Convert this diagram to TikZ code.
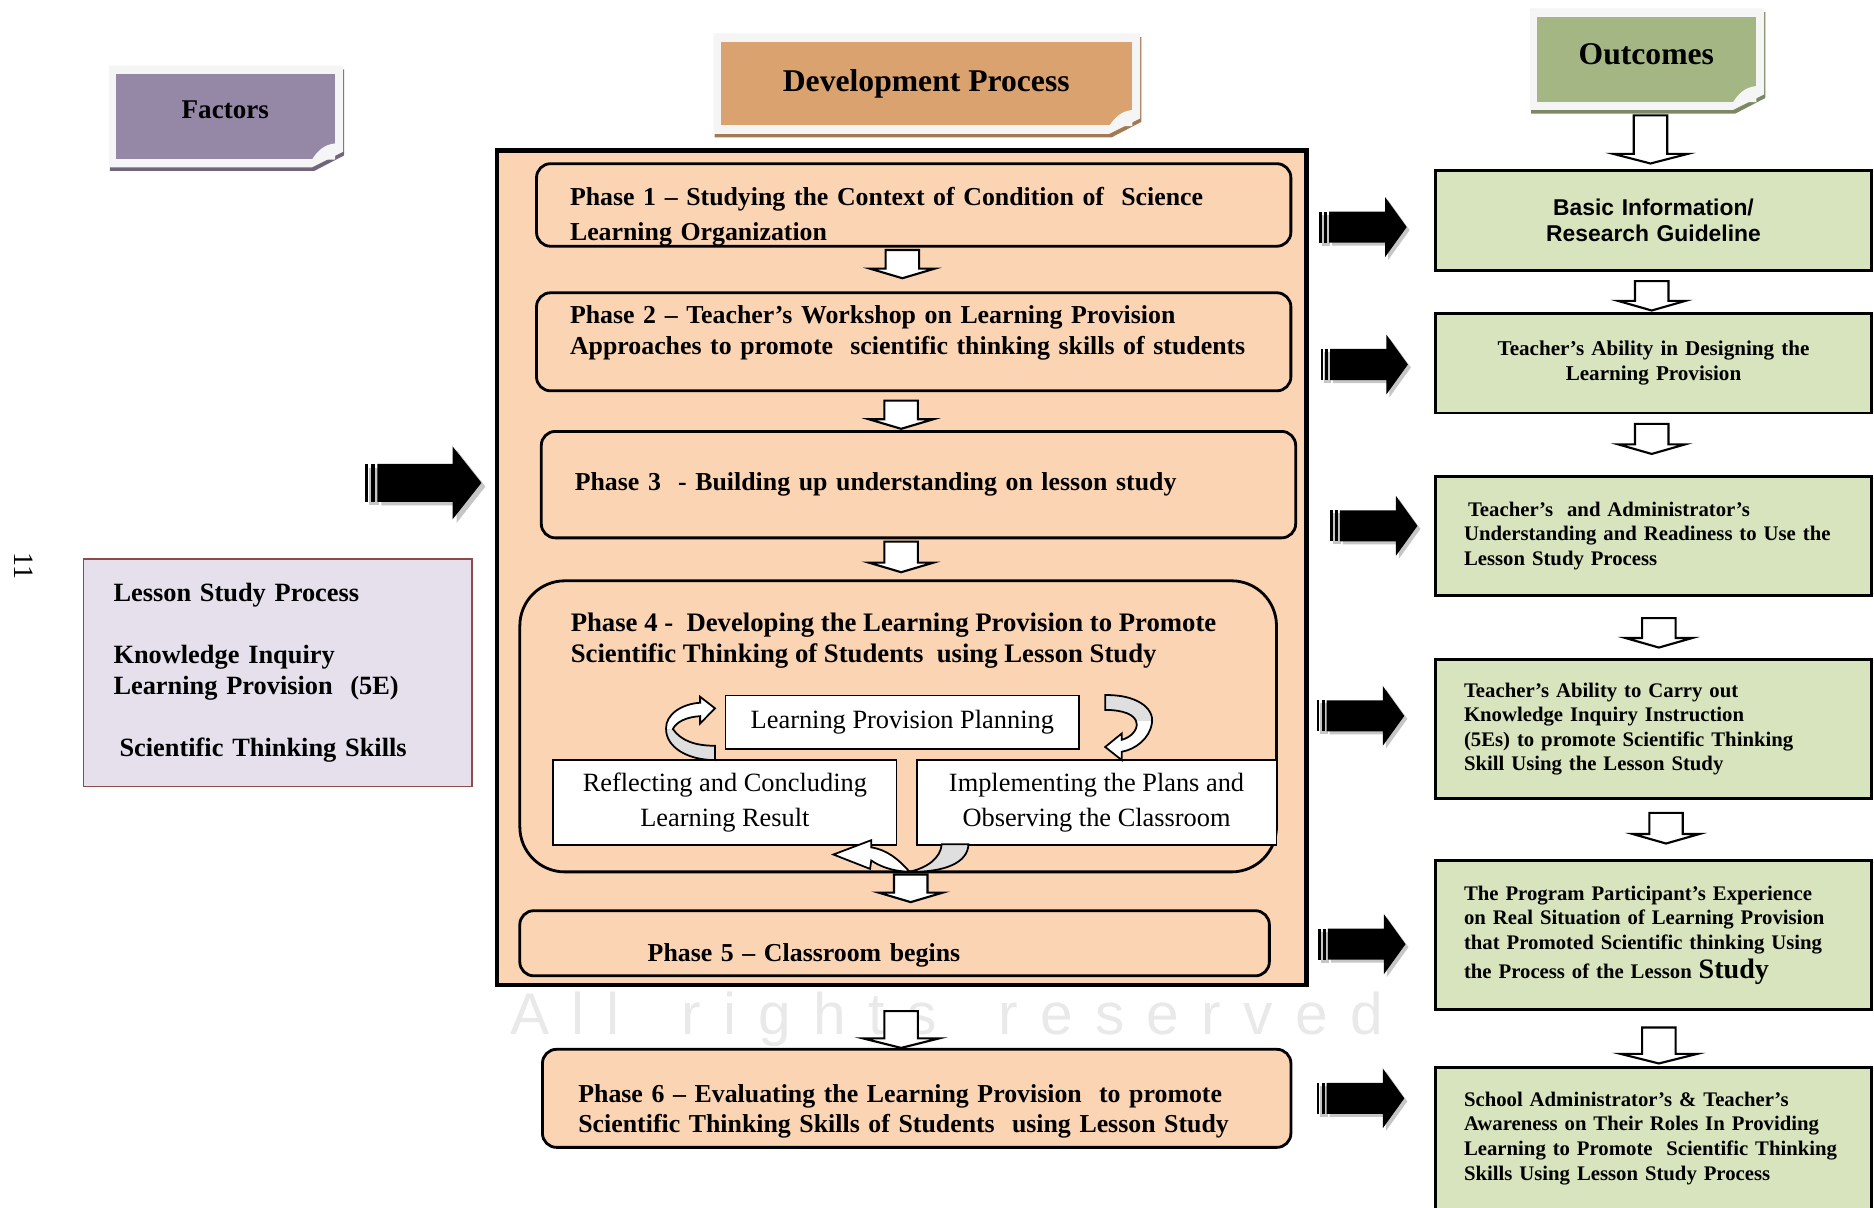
\documentclass[tikz,border=0pt]{standalone}
\usepackage{fontspec}
\setmainfont{Liberation Serif}
\setsansfont{Liberation Sans}
\usetikzlibrary{calc}

\definecolor{peach}{HTML}{FBD4B4}
\definecolor{devtan}{HTML}{D9A26F}
\definecolor{lilac}{HTML}{9587A6}
\definecolor{sage}{HTML}{A4B683}
\definecolor{palegreen}{HTML}{D7E4BD}
\definecolor{lavender}{HTML}{E5E0EC}
\definecolor{maroon}{HTML}{8E4B4B}

\newcommand{\px}{0.01195cm}
\newcommand{\ws}{\hspace{.38em}}
\newcommand{\wg}{\hspace{1.05em}}

\tikzset{
  processframe/.style={
    rectangle,
    draw=black,
    line width=1.3pt,
    fill=peach
  },
  phase/.style={
    rectangle,
    rounded corners=0.14cm,
    draw=black,
    line width=0.8pt,
    fill=peach,
    align=left,
    inner ysep=0pt,
    font=\bfseries\fontsize{7.35}{8.84}\selectfont
  },
  cyclebox/.style={
    rectangle,
    draw=black,
    line width=0.5pt,
    fill=white,
    align=center,
    inner sep=0pt,
    font=\fontsize{7.5}{9.9}\selectfont
  },
  outcome/.style={
    rectangle,
    draw=black,
    line width=0.8pt,
    fill=palegreen,
    inner xsep=0.287cm,
    inner ysep=0pt,
    minimum width=4.362cm,
    text width=3.788cm,
    align=left,
    font=\bfseries\fontsize{5.9}{7}\selectfont
  },
  factorbox/.style={
    rectangle,
    draw=maroon,
    line width=0.5pt,
    fill=lavender,
    align=left,
    inner xsep=0.299cm,
    text width=3.286cm,
    minimum width=3.884cm,
    minimum height=2.271cm,
    font=\bfseries\fontsize{7.5}{8.8}\selectfont
  },
  tag/.style={rectangle, inner sep=0pt, font=\bfseries},
  hollow/.style={draw=black, line width=0.6pt, fill=white},
  curl/.style={draw=black, line width=0.5pt},
  pics/fatarrow/.style={code={
    \fill[gray!45] (2.5,-10.5) rectangle (9,15.5);
    \fill[gray!45] (10.5,-10.5) -- (57.5,-10.5) -- (57.5,-22.5) -- (75.5,2.5)
      -- (57.5,27.5) -- (57.5,15.5) -- (10.5,15.5) -- cycle;
    \fill (0,-13) rectangle (2,13);
    \fill (4,-13) rectangle (6.5,13);
    \fill (8,-13) -- (55,-13) -- (55,-25) -- (73,0) -- (55,25) -- (55,13) -- (8,13) -- cycle;
  }}
}

% header tag: light frame, coloured face, curled corner
\newcommand{\tagbox}[7]{%
  \fill[#6!75!black] ({#2-5},{#3-4}) -- ({#4+8},{#3-4}) -- ({#4+8},{#5-3})
    -- ({#4-17},{#5+10}) -- ({#2-5},{#5+10}) -- cycle;
  \fill[gray!8] ({#2-6},{#3-7}) -- ({#4+7},{#3-7}) -- ({#4+7},{#5-6})
    -- ({#4-19},{#5+7}) -- ({#2-6},{#5+7}) -- cycle;
  \node (#1) [tag, fill=#6, minimum width={(#4-#2)*\px}, minimum height={(#5-#3)*\px}]
    at ({(#2+#4)/2},{(#3+#5)/2}) {#7};
  \fill[gray!8] ({#4+0.5},{#5-13}) .. controls ({#4-9},{#5-12}) and ({#4-14},{#5-7})
    .. ({#4-19},{#5+0.5}) -- ({#4+0.5},{#5+0.5}) -- cycle;
}

% hollow block arrow: from node, to node, x, gap top, gap bottom, head half width
\newcommand{\flowarrow}[6]{%
  \draw[hollow] let \p1=($(#1.south -| #3,0)+(0,#4)$), \p2=($(#2.north -| #3,0)+(0,-#5)$) in
    ($(\x1,\y1)+(-14,0)$) -- ($(\x1,\y1)+(14,0)$) -- ($(\x1,\y2)+(14,-8)$)
    -- ($(\x1,\y2)+(#6,-8)$) -- (\x1,\y2) -- ($(\x1,\y2)+(-#6,-8)$)
    -- ($(\x1,\y2)+(-14,-8)$) -- cycle;
}

% curved arrows round the lesson study cycle
\newcommand{\curlL}{(598.3,636) .. controls (575,636) and (557,625) .. (557.3,609.5)
  .. controls (557,598) and (570,589) .. (585.8,588) -- (585.8,583) -- (598.3,592.7)
  -- (585.8,605.3) -- (585.8,599.2) .. controls (574,600) and (566,604) .. (563,610)
  .. controls (570,620) and (582,624) .. (598.3,624) -- cycle}
\newcommand{\curlR}{(924.7,581.6) .. controls (950,581) and (966,592) .. (963.8,605)
  .. controls (962,618) and (950,627) .. (938.6,629) -- (938.6,636) -- (924.7,625)
  -- (938.6,613.7) -- (938.6,619) .. controls (946,617) and (952,611) .. (951,605)
  .. controls (950,598) and (940,594) .. (924.7,594) -- cycle}
\newcommand{\curlBback}{(810.3,706.3) .. controls (810,722) and (790,730) .. (761,729.4)
  .. controls (776,726) and (787,718) .. (788,706.3) -- cycle}
\newcommand{\curlBfront}{(761,729.4) .. controls (745,729) and (735,724) .. (729,720)
  -- (728,727) -- (697.3,715) -- (729,703) -- (729,709)
  .. controls (742,711) and (752,719) .. (761,729.4) -- cycle}

\begin{document}
\begin{tikzpicture}[x=0.01195cm, y=-0.01195cm]
\useasboundingbox (0,0) rectangle (1568,1010);

% watermark
\node (wm) [text=gray!17, font=\sffamily\fontsize{16.7}{18}\selectfont] at (792,853)
  {A\ws l\ws l\wg r\ws i\ws g\ws h\ws t\ws s\wg r\ws e\ws s\ws e\ws r\ws v\ws e\ws d};

% headers
\tagbox{factors}{97}{62}{280}{133}{lilac}{\fontsize{7.7}{9}\selectfont Factors\rule[-0.14cm]{0pt}{0pt}}
\tagbox{devproc}{603}{35}{947}{105}{devtan}{\fontsize{9}{11}\selectfont Development Process}
\tagbox{outcomes}{1286}{14}{1469}{85}{sage}{\fontsize{9}{11}\selectfont Outcomes\rule[-0.095cm]{0pt}{0pt}}

% development process
\node (process) [processframe, minimum width=8.090cm, minimum height=8.341cm] at (754.5,475) {};

\node (p1) [phase, minimum width=7.540cm, minimum height=0.825cm, inner xsep=0.335cm, text width=6.871cm,
  font=\bfseries\fontsize{7.35}{9.85}\selectfont] at (764.5,171.5)
  {\rule{0pt}{0.42cm}Phase 1 – Studying the Context of Condition of~ Science\\Learning Organization};
\node (p2) [phase, minimum width=7.540cm, minimum height=0.980cm, inner xsep=0.335cm, text width=6.871cm]
  at (764.5,286)
  {Phase 2 – Teacher’s Workshop on Learning Provision\\Approaches to promote~ scientific thinking skills of students\rule[-0.227cm]{0pt}{0pt}};
\node (p3) [phase, minimum width=7.540cm, minimum height=1.064cm, inner xsep=0.335cm, text width=6.871cm]
  at (768.5,405.5) {Phase 3~ - Building up understanding on lesson study};
\node (p4) [phase, rounded corners=0.45cm, minimum width=7.564cm, minimum height=2.910cm] at (751.5,607.75) {};
\node (p4t) [anchor=north west, inner sep=0pt, align=left, font=\bfseries\fontsize{7.6}{8.8}\selectfont]
  at (477,512) {Phase 4 -~ Developing the Learning Provision to Promote\\Scientific Thinking of Students~ using Lesson Study};

\node (plan) [cyclebox, minimum width=3.537cm, minimum height=0.538cm] at (755,604.5) {Learning Provision Planning};
\node (reflect) [cyclebox, minimum width=3.430cm, minimum height=0.848cm] at (606.5,671.5)
  {Reflecting and Concluding\\Learning Result};
\node (implement) [cyclebox, minimum width=3.597cm, minimum height=0.848cm] at (917.5,671.5)
  {Implementing the Plans and\\Observing the Classroom};

\begin{scope}
  \clip \curlL;
  \fill[white] (540,570) rectangle (610,640);
  \fill[gray!25] (540,610) rectangle (610,640);
\end{scope}
\draw[curl] \curlL;
\begin{scope}
  \clip \curlR;
  \fill[white] (915,575) rectangle (985,640);
  \fill[gray!25] (915,575) rectangle (970,603.5);
\end{scope}
\draw[curl] \curlR;
\filldraw[curl, fill=gray!25] \curlBback;
\filldraw[curl, fill=white] \curlBfront;

\node (p5) [phase, minimum width=7.493cm, minimum height=0.651cm, inner xsep=1.279cm, text width=4.935cm]
  at (748.5,789.25) {\rule{0pt}{0.42cm}Phase 5 – Classroom begins};
\node (p6) [phase, minimum width=7.481cm, minimum height=0.980cm, inner xsep=0.359cm, text width=6.764cm,
  font=\bfseries\fontsize{7.35}{8.5}\selectfont] at (767,919)
  {\rule{0pt}{0.44cm}Phase 6 – Evaluating the Learning Provision~ to promote\\Scientific Thinking Skills of Students~ using Lesson Study};

\flowarrow{p1}{p2}{755}{2}{11}{27}
\flowarrow{p2}{p3}{754}{7}{1}{27}
\flowarrow{p3}{p4}{754}{2}{6}{27}
\flowarrow{p4}{p5}{762}{1}{6}{27}
\flowarrow{process}{p6}{754}{20}{0}{32}

% factors
\node (lesson) [factorbox] at (232.5,563)
  {Lesson Study Process\\[8.8pt]Knowledge Inquiry\\Learning Provision~ (5E)\\[8.8pt]\hspace{0.06cm}Scientific Thinking Skills};
\pic[xscale=1.34, yscale=1.22] at (305,404) {fatarrow};

% outcomes
\node (o1) [outcome, align=center, minimum height=0.992cm,
  font=\sffamily\bfseries\fontsize{6.5}{7.5}\selectfont] at (1383.5,184.5)
  {Basic Information/\\Research Guideline};
\node (o2) [outcome, align=center, minimum height=0.998cm, font=\bfseries\fontsize{6}{7}\selectfont]
  at (1383.5,303.75) {Teacher’s Ability in Designing the\\Learning Provision};
\node (o3) [outcome, minimum height=1.183cm] at (1383.5,448.5)
  {\hspace{0.04cm}Teacher’s~ and Administrator’s\\Understanding and Readiness to Use the\\Lesson Study Process};
\node (o4) [outcome, minimum height=1.386cm] at (1383.5,610)
  {Teacher’s Ability to Carry out\\Knowledge Inquiry Instruction\\(5Es) to promote Scientific Thinking\\Skill Using the Lesson Study};
\node (o5) [outcome, minimum height=1.488cm] at (1383.5,782.25)
  {The Program Participant’s Experience\\on Real Situation of Learning Provision\\that Promoted Scientific thinking Using\\[1.2pt]the Process of the Lesson {\fontsize{8}{8}\selectfont Study}};
\node (o6) [outcome, minimum height=1.422cm] at (1383.5,952.5)
  {School Administrator’s \& Teacher’s\\Awareness on Their Roles In Providing\\Learning to Promote~ Scientific Thinking\\Skills Using Lesson Study Process};

\flowarrow{outcomes}{o1}{1381}{11}{5}{31}
\flowarrow{o1}{o2}{1382}{8}{1}{28}
\flowarrow{o2}{o3}{1382}{8}{18}{28}
\flowarrow{o3}{o4}{1388}{18}{9}{28}
\flowarrow{o4}{o5}{1394}{11}{13}{28}
\flowarrow{o5}{o6}{1388}{14}{2}{32}

% phases to outcomes
\pic at (1104,190) {fatarrow};
\pic at (1105,305) {fatarrow};
\pic at (1113,440) {fatarrow};
\pic at (1102,599) {fatarrow};
\pic at (1103,790) {fatarrow};
\pic at (1102,919) {fatarrow};

% page number
\node (pagenum) [rotate=-90, inner sep=0pt, font=\fontsize{8}{8}\selectfont] at (20,474) {11};
\end{tikzpicture}
\end{document}
